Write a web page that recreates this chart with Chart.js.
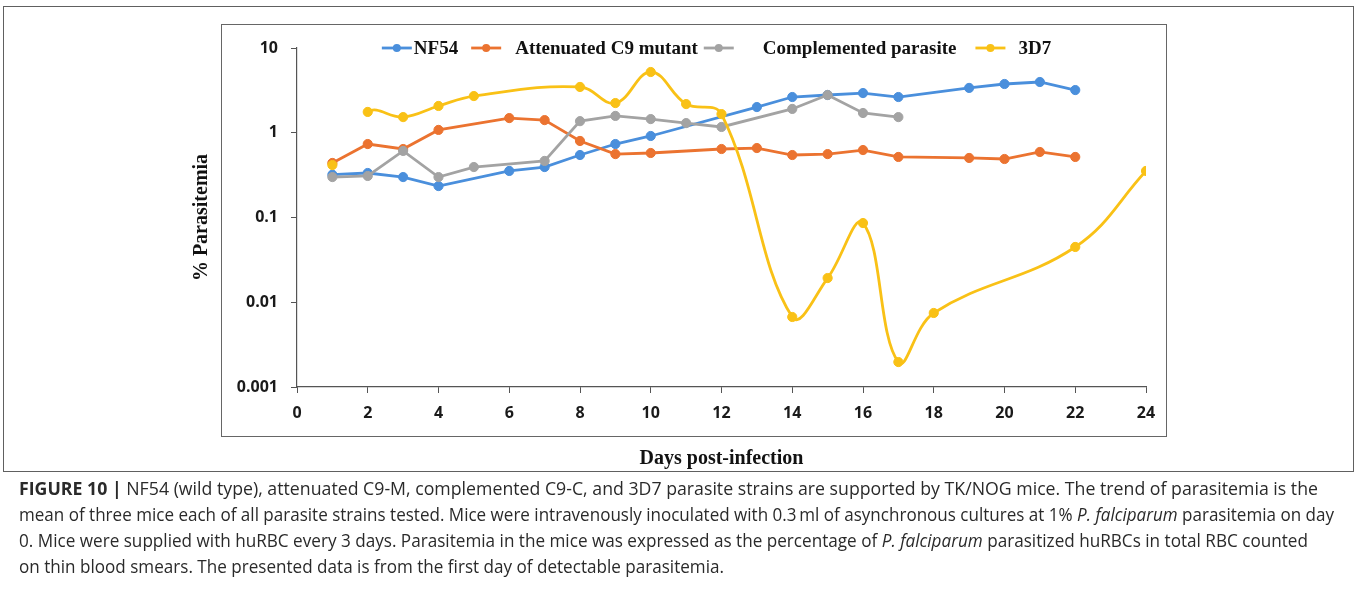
<!DOCTYPE html>
<html>
<head>
<meta charset="utf-8">
<script src="https://cdn.jsdelivr.net/npm/chart.js@4.4.1/dist/chart.umd.min.js"></script>
<style>
  html, body { margin: 0; padding: 0; background: #fff; }
  #wrap { position: relative; width: 1357px; height: 615px; overflow: hidden; background: #fff; }
  #frame { position: absolute; left: 3px; top: 6px; width: 1351px; height: 466px; border: 1.5px solid #606060; box-sizing: border-box; }
  #plotbox { position: absolute; left: 221px; top: 24px; width: 946px; height: 413px; border: 1.5px solid #666; box-sizing: border-box; }
  #chart { position: absolute; left: 0; top: 0; }
  #caption { position: absolute; left: 19px; top: 475px; font-family: 'Open Sans', sans-serif; font-size: 17.4px; line-height: 26px; color: #2a2a2a; white-space: nowrap; }
  #caption .ln { display: block; width: max-content; transform-origin: 0 50%; }
  #caption b { font-weight: 700; }
</style>
</head>
<body>
<div id="wrap">
  <div id="frame"></div>
  <div id="plotbox"></div>
  <canvas id="chart" width="1357" height="615"></canvas>
  <div id="caption">
    <span class="ln"><b>FIGURE 10 |</b> NF54 (wild type), attenuated C9-M, complemented C9-C, and 3D7 parasite strains are supported by TK/NOG mice. The trend of parasitemia is the</span>
    <span class="ln">mean of three mice each of all parasite strains tested. Mice were intravenously inoculated with 0.3&#8201;ml of asynchronous cultures at 1% <i>P. falciparum</i> parasitemia on day</span>
    <span class="ln">0. Mice were supplied with huRBC every 3 days. Parasitemia in the mice was expressed as the percentage of <i>P. falciparum</i> parasitized huRBCs in total RBC counted</span>
    <span class="ln">on thin blood smears. The presented data is from the first day of detectable parasitemia.</span>
  </div>
</div>
<script>
// Days post-infection and % parasitemia per strain
const nf54Days = [1, 2, 3, 4, 6, 7, 8, 9, 10, 13, 14, 15, 16, 17, 19, 20, 21, 22];
const nf54Values = [0.32, 0.335, 0.30, 0.235, 0.354, 0.394, 0.546, 0.736, 0.916, 2.01, 2.64, 2.79, 2.94, 2.64, 3.38, 3.76, 3.97, 3.19];

const c9Days = [1, 2, 3, 4, 6, 7, 8, 9, 10, 12, 13, 14, 15, 16, 17, 19, 20, 21, 22];
const c9Values = [0.44, 0.736, 0.643, 1.08, 1.49, 1.41, 0.80, 0.56, 0.577, 0.643, 0.66, 0.546, 0.56, 0.625, 0.518, 0.504, 0.49, 0.593, 0.518];

const compDays = [1, 2, 3, 4, 5, 7, 8, 9, 10, 11, 12, 14, 15, 16, 17];
const compValues = [0.30, 0.309, 0.61, 0.30, 0.394, 0.465, 1.37, 1.58, 1.45, 1.30, 1.17, 1.91, 2.79, 1.71, 1.53];

const d3d7Days = [1, 2, 3, 4, 5, 8, 9, 10, 11, 12, 14, 15, 16, 17, 18, 22, 24];
const d3d7Values = [0.416, 1.76, 1.53, 2.07, 2.71, 3.47, 2.24, 5.21, 2.18, 1.66, 0.0067, 0.0193, 0.086, 0.00197, 0.00747, 0.0449, 0.354];

const seriesLabels = ['NF54', 'Attenuated C9 mutant', 'Complemented parasite', '3D7'];
const seriesColors = ['#4a8fdc', '#eb7330', '#a3a3a3', '#f9c116'];

const xTickValues = [0, 2, 4, 6, 8, 10, 12, 14, 16, 18, 20, 22, 24];
const yTickValues = [0.001, 0.01, 0.1, 1, 10];
const yTickLabels = ['0.001', '0.01', '0.1', '1', '10'];

// Caption lines are set to their column widths (right edge of each line)
const captionLineEnds = [1318, 1334, 1308, 724];
document.querySelectorAll('#caption .ln').forEach((el, i) => {
  const w = el.getBoundingClientRect().width;
  const target = captionLineEnds[i] - 19;
  el.style.transform = 'scaleX(' + (target / w).toFixed(4) + ')';
});

function toPoints(days, values) {
  return days.map((d, i) => ({ x: d, y: values[i] }));
}

function lineDataset(i, days, values, smooth, order) {
  return {
    label: seriesLabels[i],
    data: toPoints(days, values),
    borderColor: seriesColors[i],
    backgroundColor: seriesColors[i],
    pointBackgroundColor: seriesColors[i],
    pointBorderColor: seriesColors[i],
    borderWidth: 2.8,
    pointRadius: 4.6,
    pointBorderWidth: 1,
    tension: smooth ? 0.4 : 0,
    fill: false,
    order: order
  };
}

// 3D7: the first reading stands alone, the smoothed curve starts on day 2
const d3d7Set = lineDataset(3, d3d7Days, d3d7Values, true, 0);
d3d7Set.segment = {
  borderColor: (c) => (c.p0DataIndex === 0 ? 'rgba(0,0,0,0)' : undefined)
};

// Legend drawn as line-with-marker entries across the top of the plot
const lineLegend = {
  id: 'lineLegend',
  afterDatasetsDraw(chart, args, opts) {
    const ctx = chart.ctx;
    const area = chart.chartArea;
    ctx.save();
    ctx.font = opts.font;
    const symW = 30;
    const items = chart.data.datasets.map((ds) => ({
      label: ds.label, color: ds.borderColor,
      w: ctx.measureText(ds.label).width
    }));
    let total = 0;
    items.forEach((it, i) => {
      total += symW + opts.textGaps[i] + it.w;
      if (i < items.length - 1) total += opts.itemGaps[i];
    });
    let x = (area.left + area.right) / 2 - total / 2 + opts.shift;
    const y = area.top;
    items.forEach((it, i) => {
      ctx.strokeStyle = it.color;
      ctx.lineWidth = 2.8;
      ctx.beginPath();
      ctx.moveTo(x, y);
      ctx.lineTo(x + symW, y);
      ctx.stroke();
      ctx.fillStyle = it.color;
      ctx.beginPath();
      ctx.arc(x + symW / 2, y, 4, 0, Math.PI * 2);
      ctx.fill();
      ctx.fillStyle = '#111';
      ctx.textAlign = 'left';
      ctx.textBaseline = 'middle';
      const tx = x + symW + opts.textGaps[i];
      ctx.fillText(it.label, tx, y + 1);
      x = tx + it.w + (i < items.length - 1 ? opts.itemGaps[i] : 0);
    });
    ctx.restore();
  }
};

const tickFont = { family: "'Open Sans', sans-serif", size: 16, weight: '700' };
const titleFont = { family: "'Liberation Serif', 'Times New Roman', serif", size: 20, weight: '700' };

new Chart(document.getElementById('chart'), {
  type: 'line',
  data: {
    datasets: [
      lineDataset(0, nf54Days, nf54Values, false, 3),
      lineDataset(1, c9Days, c9Values, false, 2),
      lineDataset(2, compDays, compValues, false, 1),
      d3d7Set
    ]
  },
  options: {
    responsive: false,
    animation: false,
    layout: { padding: { left: 186, top: 48, right: 211, bottom: 144 } },
    plugins: {
      legend: { display: false },
      tooltip: { enabled: false },
      lineLegend: {
        font: "bold 19px 'Liberation Serif', 'Times New Roman', serif",
        textGaps: [2, 14, 29, 13],
        itemGaps: [13, 6, 19],
        shift: -5
      }
    },
    scales: {
      x: {
        type: 'linear',
        min: 0,
        max: 24,
        afterBuildTicks(scale) { scale.ticks = xTickValues.map(v => ({ value: v })); },
        afterFit(scale) { scale.height = 84; },
        ticks: { font: tickFont, color: '#1a1a1a', padding: 11, maxRotation: 0, autoSkip: false },
        grid: { display: true, drawOnChartArea: false, drawTicks: true, tickLength: 6, color: '#555', lineWidth: 1 },
        border: { display: true, color: '#555', width: 1.2 },
        title: { display: true, text: 'Days post-infection', font: titleFont, color: '#111', padding: { top: 4, bottom: 0 } }
      },
      y: {
        type: 'logarithmic',
        min: 0.001,
        max: 10,
        afterBuildTicks(scale) { scale.ticks = yTickValues.map(v => ({ value: v })); },
        afterFit(scale) { scale.width = 111; },
        ticks: {
          font: tickFont, color: '#1a1a1a', padding: 13,
          callback(value) { const i = yTickValues.indexOf(value); return i >= 0 ? yTickLabels[i] : ''; }
        },
        grid: { display: true, drawOnChartArea: false, drawTicks: true, tickLength: 6, color: '#555', lineWidth: 1 },
        border: { display: true, color: '#555', width: 1.2 },
        title: { display: true, text: '% Parasitemia', font: titleFont, color: '#111', padding: { top: 4, bottom: 4 } }
      }
    }
  },
  plugins: [lineLegend]
});
</script>
</body>
</html>
